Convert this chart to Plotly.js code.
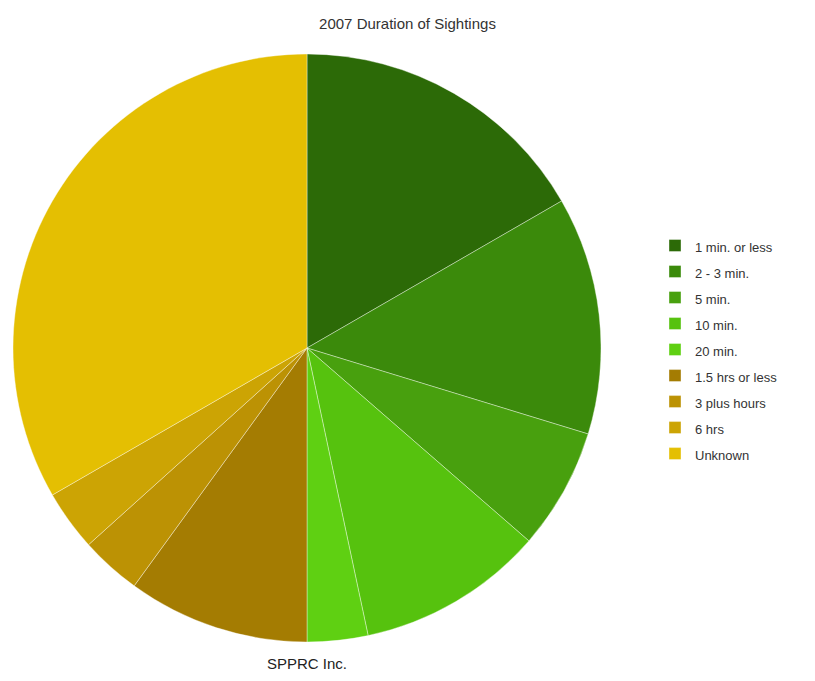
<!DOCTYPE html>
<html>
<head>
<meta charset="utf-8">
<script src="https://cdn.plot.ly/plotly-3.0.1.min.js"></script>
<style>html,body{margin:0;padding:0;background:#fff;}#chart{width:815px;height:681px;}</style>
</head>
<body>
<div id="chart"></div>
<script>
var categories = ["1 min. or less", "2 - 3 min.", "5 min.", "10 min.", "20 min.", "1.5 hrs or less", "3 plus hours", "6 hrs", "Unknown"];
var values = [60, 47, 24, 37, 12, 36, 12, 12, 120];
var colors = ["#2c6a07", "#3b8a0b", "#48a00e", "#56c20e", "#5fd012", "#a47c02", "#bc9204", "#cca404", "#e4bf02"];
var titleText = "2007 Duration of Sightings";
var footerText = "SPPRC Inc.";

var legendLabels = categories.map(function (c) {
  return '<span style="font-size:13px">' + c + '</span>';
});

var trace = {
  type: "pie",
  labels: legendLabels,
  values: values,
  sort: false,
  direction: "clockwise",
  rotation: 0,
  textinfo: "none",
  hovertext: categories,
  hoverinfo: "text+percent",
  marker: { colors: colors, line: { color: "rgba(255,255,255,0.55)", width: 0.7 } },
  domain: { x: [13 / 815, 601 / 815], y: [39 / 681, 627 / 681] }
};

var layout = {
  width: 815,
  height: 681,
  margin: { l: 0, r: 0, t: 0, b: 0 },
  paper_bgcolor: "#ffffff",
  font: { family: "Liberation Sans, Arial, sans-serif", color: "#333333" },
  title: { text: titleText, x: 0.5, xanchor: "center", y: 1 - 24 / 681, yanchor: "middle",
           font: { size: 15, color: "#333333", family: "Liberation Sans, Arial, sans-serif" } },
  showlegend: true,
  legend: {
    x: 655 / 815, xanchor: "left", y: 1 - 350 / 681, yanchor: "middle",
    font: { size: 17.7, color: "#333333", family: "Liberation Sans, Arial, sans-serif" },
    bgcolor: "rgba(0,0,0,0)", traceorder: "normal", itemwidth: 30
  },
  annotations: [{
    text: footerText, xref: "paper", yref: "paper", x: 307 / 815, y: 1 - 663 / 681,
    xanchor: "center", yanchor: "middle", showarrow: false,
    font: { size: 15, color: "#222222", family: "Liberation Sans, Arial, sans-serif" }
  }]
};

Plotly.newPlot("chart", [trace], layout, { displayModeBar: false, staticPlot: true });
</script>
</body>
</html>
